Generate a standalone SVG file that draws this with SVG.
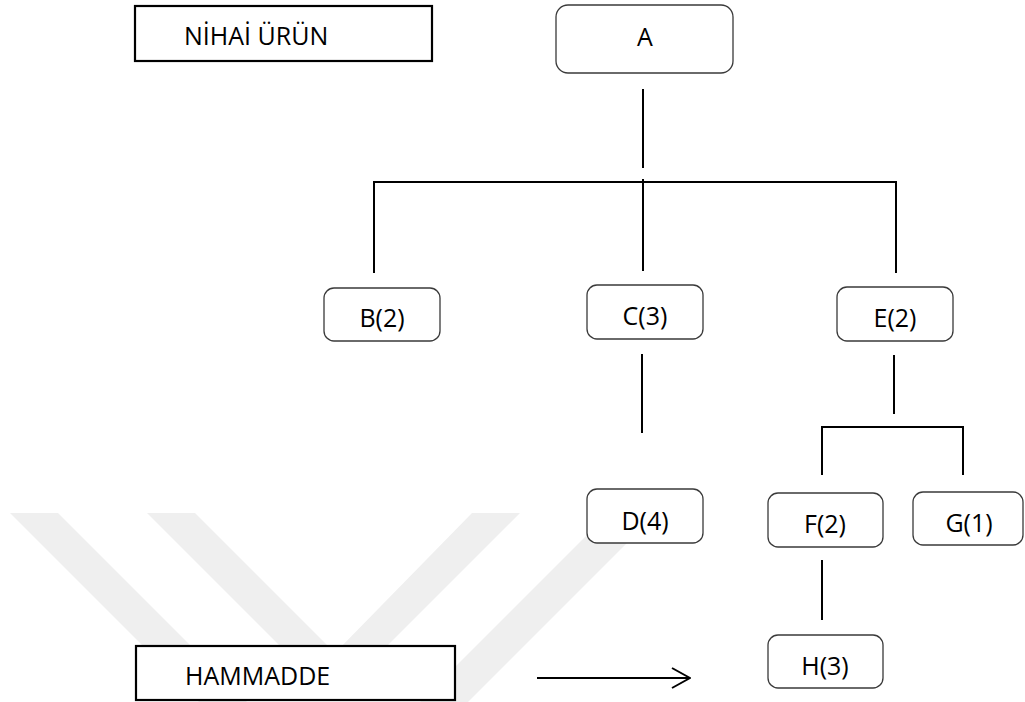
<svg xmlns="http://www.w3.org/2000/svg" width="1025" height="702" viewBox="0 0 1025 702">
  <style>
    .lbl { font-family: "Open Sans", "Liberation Sans", sans-serif; font-size: 25px; fill: #000; }
    .mid { text-anchor: middle; }
    .node { fill: #fff; stroke: #3a3a3a; stroke-width: 1.3; }
    .tag { fill: #fff; stroke: #000; stroke-width: 2.2; }
    .wire { stroke: #000; stroke-width: 2; fill: none; }
    .wm { fill: #efefef; }
  </style>
  <defs>
    <marker id="open-arrow" viewBox="0 0 20 24" refX="19" refY="12" markerWidth="20" markerHeight="24" markerUnits="userSpaceOnUse" orient="auto">
      <path d="M1,2 L19,12 L1,22" fill="none" stroke="#000" stroke-width="2"/>
    </marker>
  </defs>

  <rect width="1025" height="702" fill="#fff"/>

  <!-- faint background band pattern -->
  <g id="background-bands">
    <polygon class="wm" points="10,513 58,513 247,702 199,702"/>
    <polygon class="wm" points="147,513 195,513 335,653 311,677"/>
    <polygon class="wm" points="472,513 520,513 335,698 311,677 335,653"/>
    <polygon class="wm" points="609,513 657,513 468,702 420,702"/>
  </g>

  <!-- connectors -->
  <g id="connectors">
    <line class="wire" x1="643" y1="89" x2="643" y2="168"/>
    <line class="wire" x1="374" y1="182" x2="897" y2="182"/>
    <line class="wire" x1="643" y1="179" x2="643" y2="271"/>
    <line class="wire" x1="374" y1="181" x2="374" y2="273"/>
    <line class="wire" x1="896" y1="181" x2="896" y2="273"/>
    <line class="wire" x1="642" y1="354" x2="642" y2="433"/>
    <line class="wire" x1="894" y1="355" x2="894" y2="414"/>
    <line class="wire" x1="821" y1="427" x2="964" y2="427"/>
    <line class="wire" x1="822" y1="426" x2="822" y2="475"/>
    <line class="wire" x1="963" y1="426" x2="963" y2="475"/>
    <line class="wire" x1="822" y1="560" x2="822" y2="620"/>
    <line class="wire" x1="537" y1="678" x2="690" y2="678" marker-end="url(#open-arrow)"/>
  </g>

  <g id="nihai-urun">
    <rect class="tag" x="135" y="6" width="297" height="55"/>
    <text class="lbl" x="184" y="45">NİHAİ ÜRÜN</text>
  </g>

  <g id="hammadde">
    <rect class="tag" x="136" y="646" width="319" height="54"/>
    <text class="lbl" x="185" y="685">HAMMADDE</text>
  </g>

  <g id="node-a">
    <rect class="node" x="556" y="5" width="177" height="68" rx="12"/>
    <text class="lbl mid" x="645" y="46">A</text>
  </g>

  <g id="node-b">
    <rect class="node" x="324" y="288" width="116" height="53" rx="10"/>
    <text class="lbl mid" x="382" y="327">B(2)</text>
  </g>

  <g id="node-c">
    <rect class="node" x="587" y="285" width="116" height="54" rx="10"/>
    <text class="lbl mid" x="645" y="325">C(3)</text>
  </g>

  <g id="node-e">
    <rect class="node" x="837" y="287" width="116" height="54" rx="10"/>
    <text class="lbl mid" x="895" y="327">E(2)</text>
  </g>

  <g id="node-d">
    <rect class="node" x="587" y="489" width="116" height="54" rx="10"/>
    <text class="lbl mid" x="645" y="530">D(4)</text>
  </g>

  <g id="node-f">
    <rect class="node" x="768" y="493" width="115" height="54" rx="10"/>
    <text class="lbl mid" x="825" y="533">F(2)</text>
  </g>

  <g id="node-g">
    <rect class="node" x="913" y="492" width="110" height="53" rx="10"/>
    <text class="lbl mid" x="969" y="532">G(1)</text>
  </g>

  <g id="node-h">
    <rect class="node" x="768" y="635" width="115" height="53" rx="10"/>
    <text class="lbl mid" x="825" y="675">H(3)</text>
  </g>
</svg>
